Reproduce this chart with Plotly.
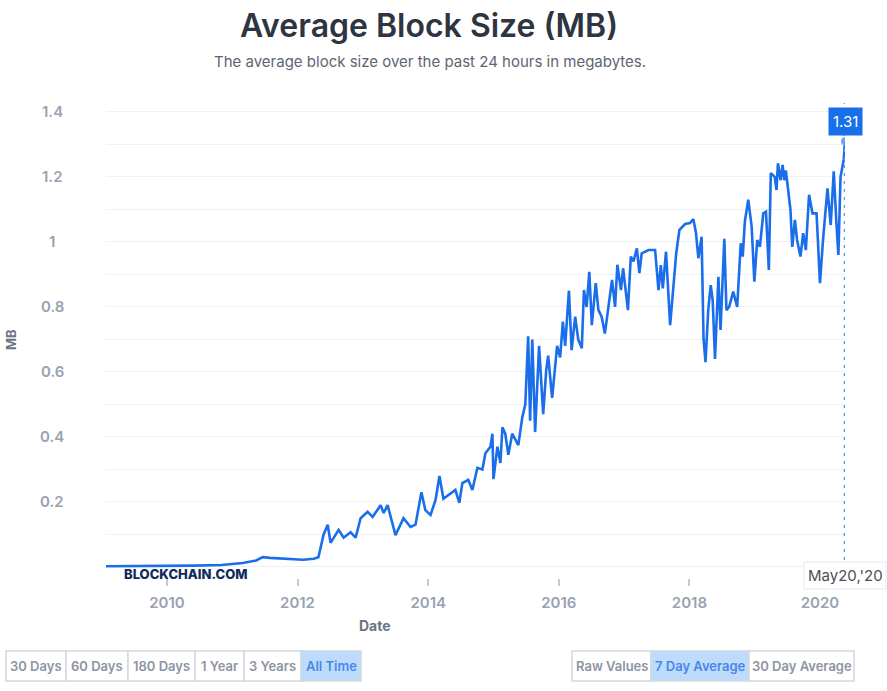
import plotly.graph_objects as go
import pandas as pd

# ---------------- data ----------------
dates = [
    "2009-01-25", "2009-06-01", "2010-01-01", "2010-06-01", "2010-11-01", "2011-01-01",
    "2011-03-01", "2011-05-15", "2011-06-20", "2011-08-01", "2011-10-01", "2011-12-01",
    "2012-02-01", "2012-04-01", "2012-04-27", "2012-05-26", "2012-06-18", "2012-07-04",
    "2012-08-18", "2012-09-15", "2012-10-24", "2012-11-21", "2012-12-19", "2013-01-27",
    "2013-02-24", "2013-04-10", "2013-04-27", "2013-05-19", "2013-07-02", "2013-08-16",
    "2013-09-24", "2013-10-22", "2013-11-24", "2013-12-16", "2014-01-14", "2014-02-11",
    "2014-03-05", "2014-03-27", "2014-06-02", "2014-06-24", "2014-07-11", "2014-08-13",
    "2014-09-05", "2014-10-03", "2014-10-31", "2014-11-17", "2014-12-15", "2014-12-26",
    "2015-01-01", "2015-01-23", "2015-02-09", "2015-02-20", "2015-03-08", "2015-03-25",
    "2015-04-16", "2015-05-20", "2015-06-11", "2015-06-28", "2015-07-14", "2015-07-25",
    "2015-08-06", "2015-08-22", "2015-09-13", "2015-10-06", "2015-10-23", "2015-11-03",
    "2015-11-25", "2015-12-23",
    "2016-01-09", "2016-01-24", "2016-02-06", "2016-02-27", "2016-03-13", "2016-04-02",
    "2016-04-19", "2016-05-09", "2016-05-21", "2016-06-05", "2016-06-20", "2016-07-04",
    "2016-07-26", "2016-08-10", "2016-08-28", "2016-09-15", "2016-10-03", "2016-10-25",
    "2016-11-11", "2016-11-24", "2016-12-14", "2016-12-26", "2017-01-22", "2017-02-07",
    "2017-02-22", "2017-03-13", "2017-03-27", "2017-04-09", "2017-05-17", "2017-06-23",
    "2017-07-12", "2017-07-25", "2017-08-05", "2017-08-23", "2017-09-15", "2017-10-03",
    "2017-10-19", "2017-11-06", "2017-12-08", "2018-01-04", "2018-01-23", "2018-02-06",
    "2018-02-20", "2018-03-10", "2018-03-21", "2018-04-01", "2018-04-16", "2018-04-30",
    "2018-05-11", "2018-05-24", "2018-06-12", "2018-06-24", "2018-07-15", "2018-07-27",
    "2018-08-11", "2018-09-03", "2018-09-25", "2018-10-15", "2018-10-26", "2018-11-07",
    "2018-11-26", "2018-12-15", "2018-12-30", "2019-01-15", "2019-01-30", "2019-02-18",
    "2019-03-05", "2019-03-21", "2019-04-01", "2019-04-23", "2019-05-03", "2019-05-11",
    "2019-05-26", "2019-06-06", "2019-06-15", "2019-06-24", "2019-07-07", "2019-07-20",
    "2019-07-30", "2019-08-14", "2019-08-26", "2019-09-14", "2019-09-29", "2019-10-14",
    "2019-11-01", "2019-11-20", "2019-12-13", "2020-01-01", "2020-01-18", "2020-02-12",
    "2020-03-01", "2020-03-18", "2020-04-02", "2020-04-13", "2020-04-25", "2020-05-13",
    "2020-05-20",
]
block_size_mb = [
    0.002, 0.002, 0.003, 0.004, 0.006, 0.008,
    0.012, 0.020, 0.030, 0.028, 0.026, 0.024,
    0.022, 0.025, 0.030, 0.100, 0.130, 0.074,
    0.114, 0.090, 0.107, 0.090, 0.150, 0.170,
    0.154, 0.190, 0.166, 0.190, 0.098, 0.150,
    0.123, 0.130, 0.230, 0.175, 0.160, 0.206,
    0.280, 0.210, 0.237, 0.197, 0.258, 0.268,
    0.237, 0.305, 0.300, 0.350, 0.370, 0.410,
    0.270, 0.370, 0.320, 0.430, 0.410, 0.345,
    0.410, 0.375, 0.460, 0.500, 0.710, 0.450,
    0.700, 0.415, 0.680, 0.470, 0.605, 0.650,
    0.520, 0.680,
    0.645, 0.755, 0.680, 0.850, 0.667, 0.770,
    0.700, 0.673, 0.852, 0.800, 0.908, 0.744,
    0.873, 0.790, 0.770, 0.718, 0.800, 0.883,
    0.800, 0.930, 0.852, 0.919, 0.790, 0.955,
    0.940, 0.980, 0.904, 0.965, 0.975, 0.975,
    0.852, 0.929, 0.857, 0.970, 0.744, 0.862,
    0.965, 1.037, 1.055, 1.058, 1.070, 1.030,
    0.950, 1.016, 0.700, 0.630, 0.790, 0.867,
    0.820, 0.640, 0.893, 0.729, 1.010, 0.790,
    0.800, 0.847, 0.800, 0.996, 0.955, 1.063,
    1.130, 1.047, 0.878, 1.006, 0.985, 1.088,
    1.093, 0.914, 1.212, 1.200, 1.160, 1.242,
    1.190, 1.237, 1.190, 1.220, 1.150, 1.099,
    0.985, 1.068, 1.006, 0.955, 1.027, 0.975,
    1.145, 1.088, 1.088, 0.873, 1.006, 1.165,
    1.052, 1.217, 1.058, 0.960, 1.200, 1.253,
    1.310,
]
y_tick_vals = [0.2, 0.4, 0.6, 0.8, 1.0, 1.2, 1.4]
y_tick_text = ["0.2", "0.4", "0.6", "0.8", "1", "1.2", "1.4"]
x_tick_vals = ["2010-01-01", "2012-01-01", "2014-01-01", "2016-01-01", "2018-01-01", "2020-01-01"]
x_tick_text = ["2010", "2012", "2014", "2016", "2018", "2020"]
range_buttons = ["30 Days", "60 Days", "180 Days", "1 Year", "3 Years", "All Time"]
avg_buttons = ["Raw Values", "7 Day Average", "30 Day Average"]

# ---------------- layout geometry (page pixels) ----------------
W, H = 887, 691
PLOT_L, PLOT_R, PLOT_T, PLOT_B = 106, 845, 97, 578
ML, MT = PLOT_L, PLOT_T
MR = W - PLOT_R
MB = H - PLOT_B
PW = PLOT_R - PLOT_L
PH = PLOT_B - PLOT_T


def px(x):
    return (x - PLOT_L) / PW


def py(y):
    return (PLOT_B - y) / PH


LINE = "#1a6eea"
GRAY = "#9aa2b3"
FONT = "Inter"

fig = go.Figure()
fig.add_trace(go.Scatter(
    x=dates, y=block_size_mb, mode="lines",
    line=dict(color=LINE, width=2.6),
    hoverinfo="skip", showlegend=False,
))
fig.add_trace(go.Scatter(
    x=[dates[-1]], y=[block_size_mb[-1]], mode="markers",
    marker=dict(color="#6ea4f2", size=8), hoverinfo="skip", showlegend=False,
))

shapes = []
annotations = []

# dashed hover line
shapes.append(dict(type="line", xref="x", yref="paper", x0=dates[-1], x1=dates[-1],
                   y0=py(560), y1=py(103),
                   line=dict(color="#5b96f0", width=2.5, dash="3px,5px")))

# titles
annotations.append(dict(text="Average Block Size (MB)", xref="paper", yref="paper",
                        x=px(429), y=py(26), xanchor="center", yanchor="middle", showarrow=False,
                        font=dict(family=FONT, size=32, color="#2e3541", weight=600)))
annotations.append(dict(text="The average block size over the past 24 hours in megabytes.",
                        xref="paper", yref="paper", x=px(429.5), y=py(62), xanchor="center",
                        yanchor="middle", showarrow=False,
                        font=dict(family=FONT, size=15, color="#5d6573")))
annotations.append(dict(text="MB", xref="paper", yref="paper", x=px(11), y=py(340),
                        xanchor="center", yanchor="middle", showarrow=False, textangle=-90,
                        font=dict(family=FONT, size=13, color="#6b7383", weight=700)))
annotations.append(dict(text="Date", xref="paper", yref="paper", x=px(375), y=py(625),
                        xanchor="center", yanchor="middle", showarrow=False,
                        font=dict(family=FONT, size=14, color="#6b7383", weight=700)))

# y tick labels (centred, as in the reference)
for v, t in zip(y_tick_vals, y_tick_text):
    annotations.append(dict(text=t, xref="paper", yref="y", x=px(52), y=v, xanchor="center",
                            yanchor="middle", showarrow=False,
                            font=dict(family=FONT, size=15, color=GRAY, weight=600)))

# watermark
annotations.append(dict(text="BLOCKCHAIN.COM", xref="paper", yref="paper", x=px(122), y=py(574),
                        xanchor="left", yanchor="middle", showarrow=False,
                        font=dict(family=FONT, size=13, color="#0f2a5c", weight=800)))

# value badge
annotations.append(dict(text=f"{block_size_mb[-1]:.2f}", xref="x", yref="y", x=dates[-1],
                        y=block_size_mb[-1], yshift=20, xanchor="center", yanchor="middle",
                        showarrow=False, bgcolor="#1770ea", borderpad=4,
                        font=dict(family=FONT, size=15, color="white")))

# date badge
last = pd.Timestamp(dates[-1])
date_label = last.strftime("%b") + str(last.day) + ",'" + last.strftime("%y")
shapes.append(dict(type="rect", xref="paper", yref="paper", x0=px(804), x1=px(886),
                   y0=py(589), y1=py(562), fillcolor="white",
                   line=dict(color="#e6e8ec", width=1)))
annotations.append(dict(text=date_label, xref="paper", yref="paper", x=px(845), y=py(575.5),
                        xanchor="center", yanchor="middle", showarrow=False,
                        font=dict(family=FONT, size=15, color="#4a4f58")))


def button_row(labels, edges, active, y0, y1):
    for i, lab in enumerate(labels):
        x0, x1 = edges[i], edges[i + 1]
        is_on = i == active
        shapes.append(dict(type="rect", xref="paper", yref="paper", x0=px(x0), x1=px(x1),
                           y0=py(y1), y1=py(y0),
                           fillcolor="#bddcfb" if is_on else "white",
                           line=dict(color="#d3d7de", width=1.5), layer="below"))
        annotations.append(dict(text=lab, xref="paper", yref="paper", x=px((x0 + x1) / 2),
                                y=py((y0 + y1) / 2), xanchor="center", yanchor="middle",
                                showarrow=False,
                                font=dict(family=FONT, size=13, weight=600,
                                          color="#4a86ea" if is_on else "#8d94a4")))


button_row(range_buttons, [6, 66, 128, 195, 244, 301, 361], len(range_buttons) - 1, 651, 681)
button_row(avg_buttons, [572, 651, 749, 854], 1, 651, 681)

fig.update_layout(
    width=W, height=H,
    margin=dict(l=ML, r=MR, t=MT, b=MB, autoexpand=False),
    paper_bgcolor="white", plot_bgcolor="white",
    shapes=shapes, annotations=annotations,
    xaxis=dict(
        type="date", range=[dates[0], dates[-1]],
        tickvals=x_tick_vals, ticktext=x_tick_text,
        ticks="outside", ticklen=7, tickwidth=1.5, tickcolor="#c5c9d1",
        ticklabelstandoff=4,
        tickfont=dict(family=FONT, size=15, color=GRAY, weight=600),
        showgrid=False, zeroline=False, showline=False,
    ),
    yaxis=dict(
        range=[-0.034, 1.446],
        tickvals=y_tick_vals, showticklabels=False,
        showgrid=True, gridcolor="#f0f1f3", gridwidth=1,
        minor=dict(tick0=0, dtick=0.1, showgrid=True, gridcolor="#f0f1f3", gridwidth=1),
        zeroline=False, showline=False, ticks="",
    ),
)

# remove the browser's default 8px page margin so the figure fills the window
fig.write_html(
    "out.html",
    config={"displayModeBar": False},
    post_script="document.body.style.margin='0px';document.body.style.overflow='hidden';",
)
